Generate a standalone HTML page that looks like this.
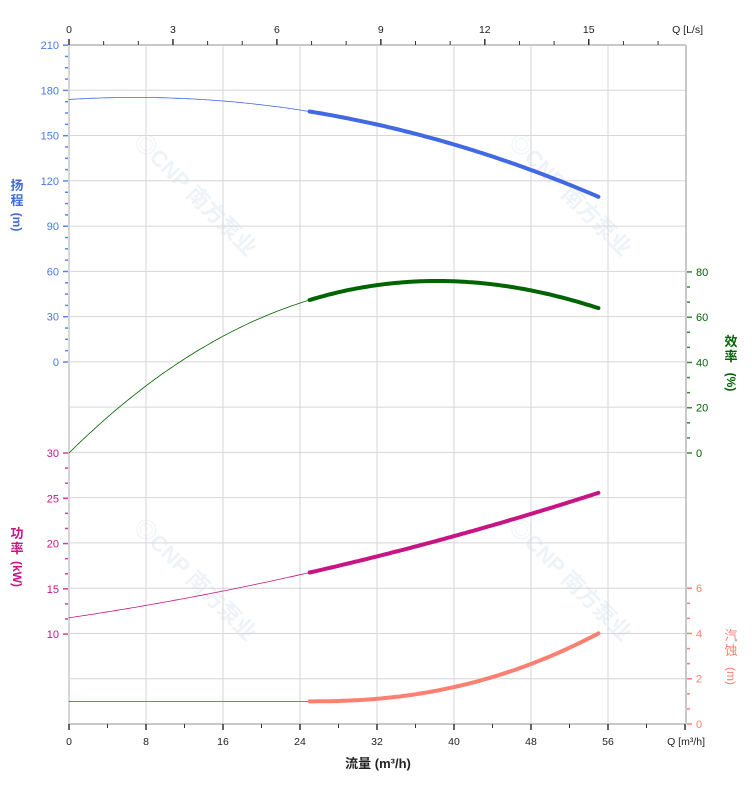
<!DOCTYPE html>
<html><head><meta charset="utf-8"><style>
html,body{margin:0;padding:0;background:#fff;}
svg{display:block;font-family:"Liberation Sans","Noto Sans CJK SC",sans-serif;}
</style></head><body>
<svg id="s" width="752" height="797" viewBox="0 0 752 797" xmlns="http://www.w3.org/2000/svg"></svg>
<script>
const s=document.getElementById('s');let h='';
const X=q=>69+q*9.625;
const L=69,R=686,T=45,B=724,gs=(B-T)/15;
[[190,200],[565,200],[190,585],[565,585]].forEach(([x,y])=>{h+=`<text x="${x}" y="${y}" transform="rotate(45 ${x} ${y})" font-size="22" font-weight="bold" fill="#eef3f8" text-anchor="middle">◎CNP 南方泵业</text>`;});
for(let i=0;i<=15;i++){const y=T+i*gs;h+=`<line x1="${L}" x2="${R}" y1="${y}" y2="${y}" stroke="#d6d6d6" stroke-width="1"/>`;}
for(let q=8;q<=56;q+=8)h+=`<line x1="${X(q)}" x2="${X(q)}" y1="${T}" y2="${B}" stroke="#d6d6d6"/>`;
h+=`<line x1="${R}" x2="${R}" y1="${T}" y2="${B}" stroke="#c8c8c8" stroke-width="2"/>`;
h+=`<line x1="${L}" x2="${L}" y1="${T}" y2="${B}" stroke="#d6d6d6" stroke-width="2"/>`;
h+=`<line x1="${L}" x2="${R}" y1="${B}" y2="${B}" stroke="#c8c8c8" stroke-width="2"/>`;
for(let q=0;q<=64;q+=4){const x=X(q);const mj=q%8==0;h+=`<line x1="${x}" x2="${x}" y1="${B}" y2="${B+(mj?6:4)}" stroke="#333" stroke-width="${mj?1.5:1}"/>`;if(mj&&q<=56)h+=`<text x="${x}" y="745" font-size="10.5" fill="#222" text-anchor="middle">${q}</text>`;}
h+=`<text x="705" y="745" font-size="10.5" fill="#222" text-anchor="end">Q [m³/h]</text>`;
h+=`<text x="378" y="768" font-size="13" font-weight="bold" fill="#222" text-anchor="middle">流量 (m³/h)</text>`;
h+=`<line x1="${L}" x2="${R}" y1="${T}" y2="${T}" stroke="#c8c8c8" stroke-width="2"/>`;
for(let l=0;l<=17;l++){const x=X(l*3.6);if(x>R)break;const mj=l%3==0;h+=`<line x1="${x}" x2="${x}" y1="${T}" y2="${T-(mj?6:4)}" stroke="#333" stroke-width="${mj?1.5:1}"/>`;if(mj)h+=`<text x="${x}" y="33" font-size="10.5" fill="#222" text-anchor="middle">${l}</text>`;}
h+=`<text x="703" y="33" font-size="10.5" fill="#222" text-anchor="end">Q [L/s]</text>`;
const HY=v=>362-v*gs/30;
for(let v=0;v<=210;v+=7.5){const y=HY(v);const mj=v%30==0;h+=`<line x1="${L-1}" x2="${L-(mj?6:4)}" y1="${y}" y2="${y}" stroke="#5b86e8" stroke-width="1.5"/>`;if(mj)h+=`<text x="59" y="${y+4}" font-size="11" fill="#4a78e0" text-anchor="end">${v}</text>`;}
h+=`<text x="17" y="190" font-size="13" font-weight="bold" fill="#4169E1" text-anchor="middle">扬</text><text x="17" y="205" font-size="13" font-weight="bold" fill="#4169E1" text-anchor="middle">程</text><text x="17" y="226" font-size="12" font-weight="bold" fill="#4169E1" text-anchor="middle" transform="rotate(90 17 222)">(m)</text>`;
const PY=v=>453-(v-30)*9.055;
for(let i=0;i<=12;i++){const v=10+i*5/3;const y=PY(v);const mj=i%3==0;h+=`<line x1="${L-1}" x2="${L-(mj?6:4)}" y1="${y}" y2="${y}" stroke="#d0409a" stroke-width="1.5"/>`;if(mj)h+=`<text x="59" y="${y+4}" font-size="11" fill="#c71585" text-anchor="end">${Math.round(v)}</text>`;}
h+=`<text x="17" y="538" font-size="13" font-weight="bold" fill="#C71585" text-anchor="middle">功</text><text x="17" y="553" font-size="13" font-weight="bold" fill="#C71585" text-anchor="middle">率</text><text x="17" y="578" font-size="12" font-weight="bold" fill="#C71585" text-anchor="middle" transform="rotate(90 17 574)">(kW)</text>`;
const EY=v=>453-v*gs/20;
for(let i=0;i<=12;i++){const v=i*20/3;const y=EY(v);const mj=i%3==0;h+=`<line x1="${R+1}" x2="${R+(mj?6:4)}" y1="${y}" y2="${y}" stroke="#3a8a3a" stroke-width="1.5"/>`;if(mj)h+=`<text x="696" y="${y+4}" font-size="11" fill="#006400">${Math.round(v)}</text>`;}
h+=`<text x="731" y="346" font-size="13" font-weight="bold" fill="#006400" text-anchor="middle">效</text><text x="731" y="361" font-size="13" font-weight="bold" fill="#006400" text-anchor="middle">率</text><text x="731" y="386" font-size="12" font-weight="bold" fill="#006400" text-anchor="middle" transform="rotate(90 731 382)">(%)</text>`;
const NY=v=>724-v*gs/2;
for(let i=0;i<=9;i++){const v=i*2/3;const y=NY(v);const mj=i%3==0;h+=`<line x1="${R+1}" x2="${R+(mj?6:4)}" y1="${y}" y2="${y}" stroke="#fa8072" stroke-width="1.5"/>`;if(mj)h+=`<text x="696" y="${y+4}" font-size="11" fill="#fa8072">${Math.round(v)}</text>`;}
h+=`<text x="731" y="640" font-size="13" fill="#fa8072" text-anchor="middle">汽</text><text x="731" y="655" font-size="13" fill="#fa8072" text-anchor="middle">蚀</text><text x="731" y="680" font-size="12" fill="#fa8072" text-anchor="middle" transform="rotate(90 731 676)">(m)</text>`;
function pl(f,yf,a,b,c,w){let p=[];for(let q=a;q<=b+1e-9;q+=0.25)p.push(X(q).toFixed(1)+','+yf(f(q)).toFixed(1));return `<polyline points="${p.join(' ')}" fill="none" stroke="${c}" stroke-width="${w}" stroke-linecap="round"/>`;}
const Hf=q=>174+0.3906*q-0.02842*q*q;
function solve(A,b){const n=3;for(let i=0;i<n;i++){for(let j=i+1;j<n;j++){const f=A[j][i]/A[i][i];for(let k=i;k<n;k++)A[j][k]-=f*A[i][k];b[j]-=f*b[i];}}const x=[0,0,0];for(let i=n-1;i>=0;i--){let t=b[i];for(let k=i+1;k<n;k++)t-=A[i][k]*x[k];x[i]=t/A[i][i];}return x;}
const qs=[25,38.5,55],es=[67.6,76,64];
const co=solve(qs.map(q=>[q,q*q,q*q*q]),es.slice());
const Ef=q=>co[0]*q+co[1]*q*q+co[2]*q*q*q;
const Pf=q=>11.8+0.1576*q+0.001697*q*q;
const Nf=q=>q<25?1:1+0.001426*Math.pow(q-25,2.25);
h+=pl(Hf,HY,0,25,'#4169E1',0.8)+pl(Hf,HY,25,55,'#4169E1',4);
h+=pl(Ef,EY,0,25,'#006400',0.8)+pl(Ef,EY,25,55,'#006400',4);
h+=pl(Pf,PY,0,25,'#C71585',0.8)+pl(Pf,PY,25,55,'#C71585',4);
h+=pl(Nf,NY,0,25,'#C71585',0.8)+pl(Nf,NY,25,55,'#FA8072',4);
s.innerHTML=h;
</script>
</body></html>
